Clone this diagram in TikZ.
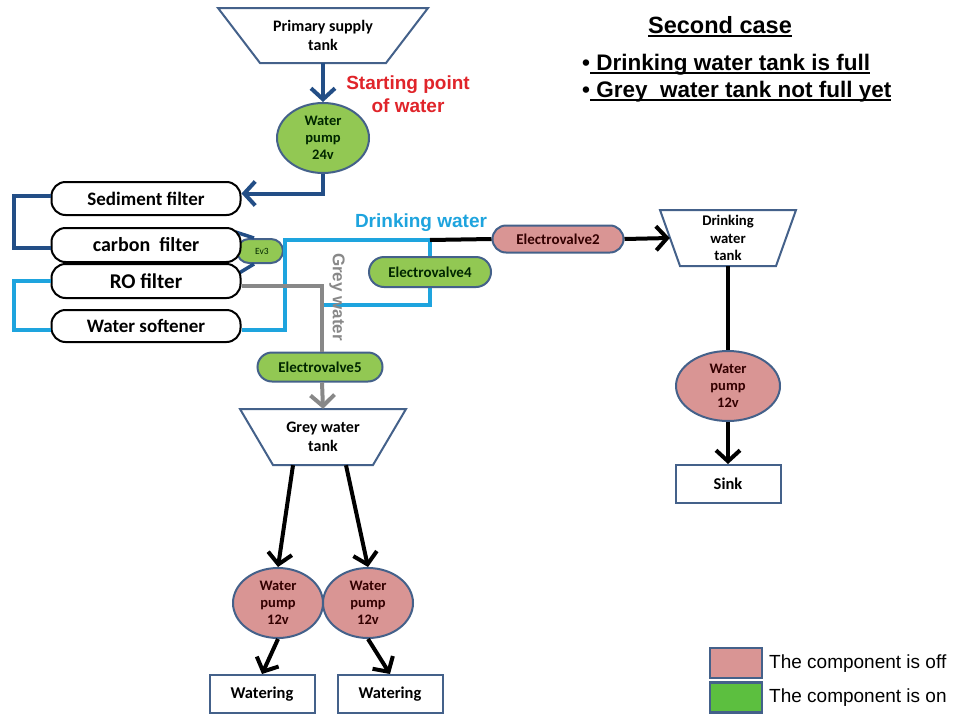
\documentclass[tikz,border=0pt]{standalone}
\usepackage{fontspec}
\setmainfont{Carlito}
\newfontfamily\arial{Liberation Sans}
\usetikzlibrary{shapes.geometric,shapes.misc,arrows.meta,calc}
\definecolor{pinkf}{HTML}{D99594}
\definecolor{greenf}{HTML}{92C853}
\definecolor{legendgreen}{HTML}{5CBF3F}
\definecolor{bord}{HTML}{44618A}
\definecolor{dblue}{HTML}{234E86}
\definecolor{lblue}{HTML}{1EA4DE}
\definecolor{greyl}{HTML}{888888}
\definecolor{redt}{HTML}{E0242A}
\newcommand\ulx[1]{\setbox0\hbox{#1}\rlap{\raisebox{-3.5pt}{\rule{\wd0}{2.4pt}}}\box0}
\newcommand\tankshape[8]{%
  \node[tanktext, font=#8, minimum width={#4+#5}, minimum height={2*#6}] (#1) at (#2,#3) {#7};
  \draw[tankborder] ({#2-#4},{#3-#6}) -- ({#2+#4},{#3-#6}) -- ({#2+#5},{#3+#6}) -- ({#2-#5},{#3+#6}) -- cycle;
}
\begin{document}
\begin{tikzpicture}[x=1pt,y=-1pt,
  tanktext/.style={inner sep=0pt, align=center},
  tankborder/.style={draw=bord, line width=2pt},
  pump/.style={ellipse, draw=bord, line width=2pt, minimum width=92pt, minimum height=70pt, inner sep=0pt, align=center, font=\fontsize{14.5}{17}\selectfont\bfseries},
  on/.style={fill=greenf, text=black!85!green},
  off/.style={fill=pinkf, text=black!80!red},
  valve/.style={rounded rectangle, draw=bord, line width=2pt, minimum height=28pt, inner sep=0pt, font=\fontsize{15}{16}\selectfont\bfseries},
  filter/.style={draw=black, line width=2pt, rounded corners=14pt, fill=white, minimum width=189pt, minimum height=34pt, inner sep=0pt},
  outbox/.style={draw=bord, line width=2pt, fill=white, minimum width=105pt, minimum height=38pt, inner sep=0pt, font=\fontsize{16.5}{18}\selectfont\bfseries},
  pipe/.style={line width=4pt},
  pipearrow/.style={line width=4pt, -{Straight Barb[length=11pt,width=24pt]}},
  legbox/.style={draw=bord, line width=2.5pt, minimum width=52pt, minimum height=30pt, inner sep=0pt},
  legtext/.style={anchor=west, inner sep=0pt, font=\arial\fontsize{19}{22}\selectfont}
]
\useasboundingbox (0,0) rectangle (960,720);
\fill[white] (0,0) rectangle (960,720);

% tanks
\tankshape{ptank}{323}{35.5}{105}{63}{27.5}{Primary supply\\tank}{\fontsize{16}{18.5}\selectfont\bfseries}
\tankshape{dtank}{728}{238}{68}{48}{28}{Drinking\\water\\tank}{\fontsize{14.7}{17.5}\selectfont\bfseries}
\tankshape{gtank}{323}{437}{83}{50}{28}{Grey water\\tank}{\fontsize{16}{19}\selectfont\bfseries}

% pumps
\node[pump, on] (p24) at (323,138) {Water\\pump\\24v};
\node[pump, off, minimum width=104pt] (p12) at (728,386) {Water\\pump\\12v};
\node[pump, off, minimum width=90pt] (pL) at (278,603) {Water\\pump\\12v};
\node[pump, off, minimum width=90pt] (pR) at (368,603) {Water\\pump\\12v};

% coordinates for pipes
\coordinate (lb1) at (285,240);
\coordinate (jn) at (430,240);
\coordinate (bend) at (430,305);
\coordinate (gj) at (322,305);

% Ev3 and its links (behind filters)
\node[valve, on, minimum width=46pt, minimum height=24pt, font=\fontsize{9.5}{10}\selectfont] (ev3) at (260,251) {\hspace*{4pt}Ev3};

\path (146,198.5) coordinate (sedc) (146,245) coordinate (carc) (146,281) coordinate (roc) (146,326) coordinate (sofc);

\draw[dblue, line width=3.5pt] ([xshift=-5pt,yshift=13pt]240.5,245) -- ([xshift=-6pt]ev3.north);
\draw[dblue, line width=3.5pt] ([xshift=-6pt]ev3.south) -- ([xshift=-3pt,yshift=7pt]240.5,281);

\node[filter, font=\fontsize{19}{21}\selectfont\bfseries, minimum height=33pt] (sed) at (sedc) {Sediment filter};
\node[filter, font=\fontsize{20}{22}\selectfont\bfseries] (car) at (carc) {carbon\ \ filter};
\node[filter, font=\fontsize{21}{23}\selectfont\bfseries] (ro) at (roc) {RO filter};
\node[filter, font=\fontsize{19}{21}\selectfont\bfseries, minimum height=32pt] (sof) at (sofc) {Water softener};

% dark blue pipes
\draw[pipearrow, dblue] (ptank.south) -- (p24.north);
\draw[pipearrow, dblue] (p24.south) |- ([yshift=5pt]sed.east);
\draw[pipe, dblue] ([yshift=3pt]sed.west) -- ++(-37,0) |- ([yshift=-3pt]car.west);

% light blue pipes
\draw[pipe, lblue] (ro.west) -- ++(-37,0) |- ([yshift=-4pt]sof.west);
\draw[pipe, lblue] ([yshift=-4pt]sof.east) -| (lb1) -- (jn);
\draw[pipe, lblue] (jn) -- (bend) -- (gj);

% grey pipes
\node[valve, on, minimum width=125pt, minimum height=29pt] (ev5) at (320,367) {Electrovalve5};
\draw[pipe, greyl] ([yshift=-5pt]ro.east) -| ([xshift=2pt]ev5.north);
\draw[pipearrow, greyl] ([xshift=2pt]ev5.south) -- (gtank.north);

% valves on lines
\node[valve, on, minimum width=122pt, minimum height=30pt] (ev4) at (430,272) {Electrovalve4};
\node[valve, off, minimum width=131pt, minimum height=27pt] (ev2) at (558,239) {Electrovalve2};

% black pipes
\draw[pipe, black] (jn) -- (ev2.west);
\draw[pipearrow, black] (ev2.east) -- (dtank.west);
\draw[pipe, black] (dtank.south) -- (p12.north);

\node[outbox] (sink) at (728,484) {Sink};
\node[outbox] (wL) at (262,694) {Watering};
\node[outbox] (wR) at (390,694) {Watering};

\draw[pipearrow, black] (p12.south) -- (sink.north);
\draw[pipearrow, black] ([xshift=-30pt]gtank.south) -- (pL.north);
\draw[pipearrow, black] ([xshift=23pt]gtank.south) -- (pR.north);
\draw[pipearrow, black] (pL.south) -- (wL.north);
\draw[pipearrow, black] (pR.south) -- (wR.north);

% labels
\node[align=center, text=redt, font=\arial\bfseries\fontsize{19}{23}\selectfont] (start) at (408,94) {Starting point\\of water};
\node[text=lblue, font=\arial\bfseries\fontsize{19}{22}\selectfont] (dwl) at (421,223) {Drinking water};
\node[text=greyl, rotate=-90, font=\arial\bfseries\fontsize{17}{19}\selectfont] (gwl) at (337,297) {Grey water};

% title
\node[font=\arial\bfseries\fontsize{23.5}{28}\selectfont] (title) at (720,27) {\ulx{Second case}};
\node[anchor=west, inner sep=0pt, font=\arial\bfseries\fontsize{22.5}{26}\selectfont] (b1) at (582,65) {\textbullet\ulx{\ Drinking water tank is full}};
\node[anchor=west, inner sep=0pt, font=\arial\bfseries\fontsize{22.5}{26}\selectfont] (b2) at (582,92) {\textbullet\ulx{\ Grey\ \ water tank not full yet}};

% legend
\node[legbox, fill=pinkf] (lgoff) at (736,663) {};
\node[legbox, fill=legendgreen] (lgon) at (736,697.5) {};
\node[legtext] (lgofft) at (769,664) {The component is off};
\node[legtext] (lgont) at (769,698) {The component is on};
\end{tikzpicture}
\end{document}
